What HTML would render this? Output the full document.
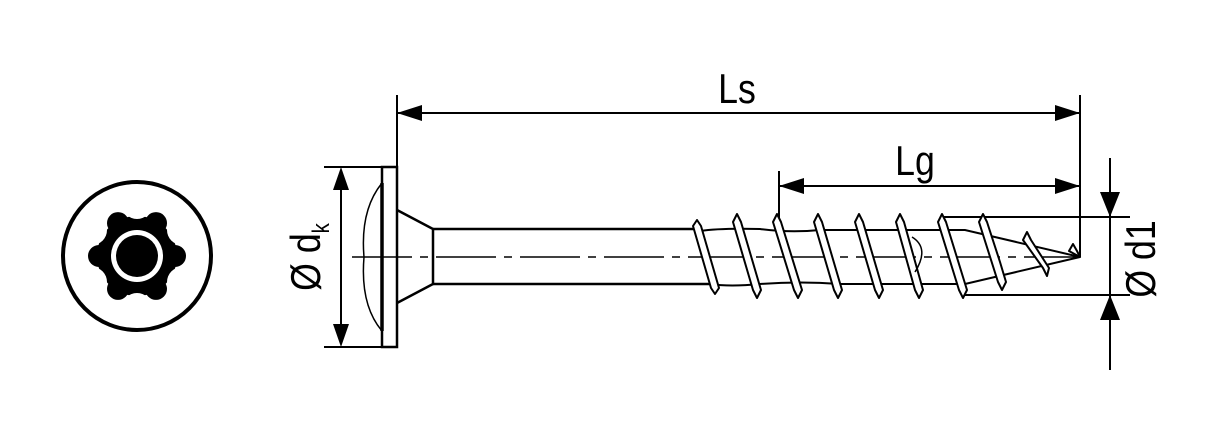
<!DOCTYPE html>
<html><head><meta charset="utf-8"><style>
html,body{margin:0;padding:0;background:#fff;}
svg{display:block;}
text{font-family:"Liberation Sans",sans-serif;fill:#000;}
</style></head><body>
<svg width="1232" height="429" viewBox="0 0 1232 429" xmlns="http://www.w3.org/2000/svg">
<circle cx="137" cy="256" r="74" fill="none" stroke="#000" stroke-width="4"/>
<g transform="translate(137,256)">
<circle r="40" fill="#000"/>
<g fill="#000">
<circle cx="38" cy="0" r="11"/><circle cx="19" cy="32.9" r="11"/><circle cx="-19" cy="32.9" r="11"/>
<circle cx="-38" cy="0" r="11"/><circle cx="-19" cy="-32.9" r="11"/><circle cx="19" cy="-32.9" r="11"/>
</g>
<g fill="#fff">
<circle cx="45" cy="26" r="15"/><circle cx="0" cy="52" r="15"/><circle cx="-45" cy="26" r="15"/>
<circle cx="-45" cy="-26" r="15"/><circle cx="0" cy="-52" r="15"/><circle cx="45" cy="-26" r="15"/>
</g>
<circle r="26" fill="#fff"/>
<circle r="21" fill="#000"/>
</g>

<g stroke="#000" fill="none" stroke-width="2.5">
<rect x="382" y="167" width="15" height="180"/>
<line x1="382" y1="183" x2="382" y2="331" stroke-width="3.5"/>
<path d="M382,183 Q360,210 364,257 Q360,305 382,331" stroke-width="1.5"/>
<path d="M397,210 L433,229 L433,284 L397,303"/>
<line x1="433" y1="229" x2="700" y2="229"/>
<line x1="433" y1="284" x2="710" y2="284"/>
<path d="M700,231 Q720,228 760,229 Q790,233 820,230 L965,230 L1080,257 L965,284 L840,284 Q800,281 760,284 Q730,287 710,284" stroke-width="2"/>
<line x1="324" y1="167" x2="382" y2="167" stroke-width="2"/>
<line x1="324" y1="347" x2="382" y2="347" stroke-width="2"/>
<line x1="341" y1="180" x2="341" y2="334" stroke-width="2"/>
<line x1="397" y1="95" x2="397" y2="167" stroke-width="2"/>
<line x1="1080" y1="95" x2="1080" y2="257" stroke-width="2"/>
<line x1="779" y1="171" x2="779" y2="230" stroke-width="2"/>
<line x1="942" y1="217" x2="1130" y2="217" stroke-width="2"/>
<line x1="963" y1="295" x2="1130" y2="295" stroke-width="2"/>
<line x1="1110" y1="158" x2="1110" y2="370" stroke-width="2"/>
</g>
<line x1="352" y1="257" x2="1078" y2="257" stroke="#000" stroke-width="1.5" stroke-dasharray="60,8,8,8"/>
<g fill="#000">
<path d="M341,167 L333,190 L349,190 Z"/>
<path d="M341,347 L333,324 L349,324 Z"/>
<path d="M397,113 L422,105 L422,121 Z"/>
<path d="M1080,113 L1055,105 L1055,121 Z"/>
<path d="M779,186 L804,178 L804,194 Z"/>
<path d="M1080,186 L1055,178 L1055,194 Z"/>
<path d="M1110,217 L1100,192 L1120,192 Z"/>
<path d="M1110,295 L1100,320 L1120,320 Z"/>
</g>
<g stroke="#000" stroke-width="2">
<line x1="397" y1="113" x2="1080" y2="113"/>
<line x1="779" y1="186" x2="1080" y2="186"/>
</g>
<g stroke="#000" stroke-width="2" fill="#fff" stroke-linejoin="round">
<path d="M693,226 L697,220 L701,226 L719,288 L715,294 L711,288 Z"/>
<path d="M733,222 L737,214 L741,222 L761,290 L757,298 L753,290 Z"/>
<path d="M773,222 L777,214 L781,222 L802,290 L798,298 L794,290 Z"/>
<path d="M814,222 L818,214 L822,222 L842,290 L838,298 L834,290 Z"/>
<path d="M855,222 L859,214 L863,222 L883,290 L879,298 L875,290 Z"/>
<path d="M896,222 L900,214 L904,222 L923,290 L919,298 L915,290 Z"/>
<path d="M938,222 L942,214 L946,222 L967,290 L963,298 L959,290 Z"/>
<path d="M979,222 L983,214 L987,222 L1000,262 L1006,282 L1002,290 L998,282 Z"/>
<path d="M1023,240 L1027,232 L1031,240 L1049,268 L1047,276 L1043,268 Z"/>
<path d="M1069,251 L1073,244 L1077,251 L1080,257 Z"/>
</g>
<path d="M912,237 Q930,248 915,272" stroke="#000" stroke-width="1.5" fill="none"/>
<text font-size="42" text-anchor="middle" transform="translate(737,103) scale(0.85,1)">Ls</text>
<text font-size="42" text-anchor="middle" transform="translate(915,175) scale(0.85,1)">Lg</text>
<text font-size="42" text-anchor="middle" transform="translate(320,257) rotate(-90) scale(0.85,1)">Ø d<tspan font-size="24" dy="9">k</tspan></text>
<text font-size="42" text-anchor="middle" transform="translate(1155,259) rotate(-90) scale(0.85,1)">Ø d1</text>
</svg>
</body></html>
